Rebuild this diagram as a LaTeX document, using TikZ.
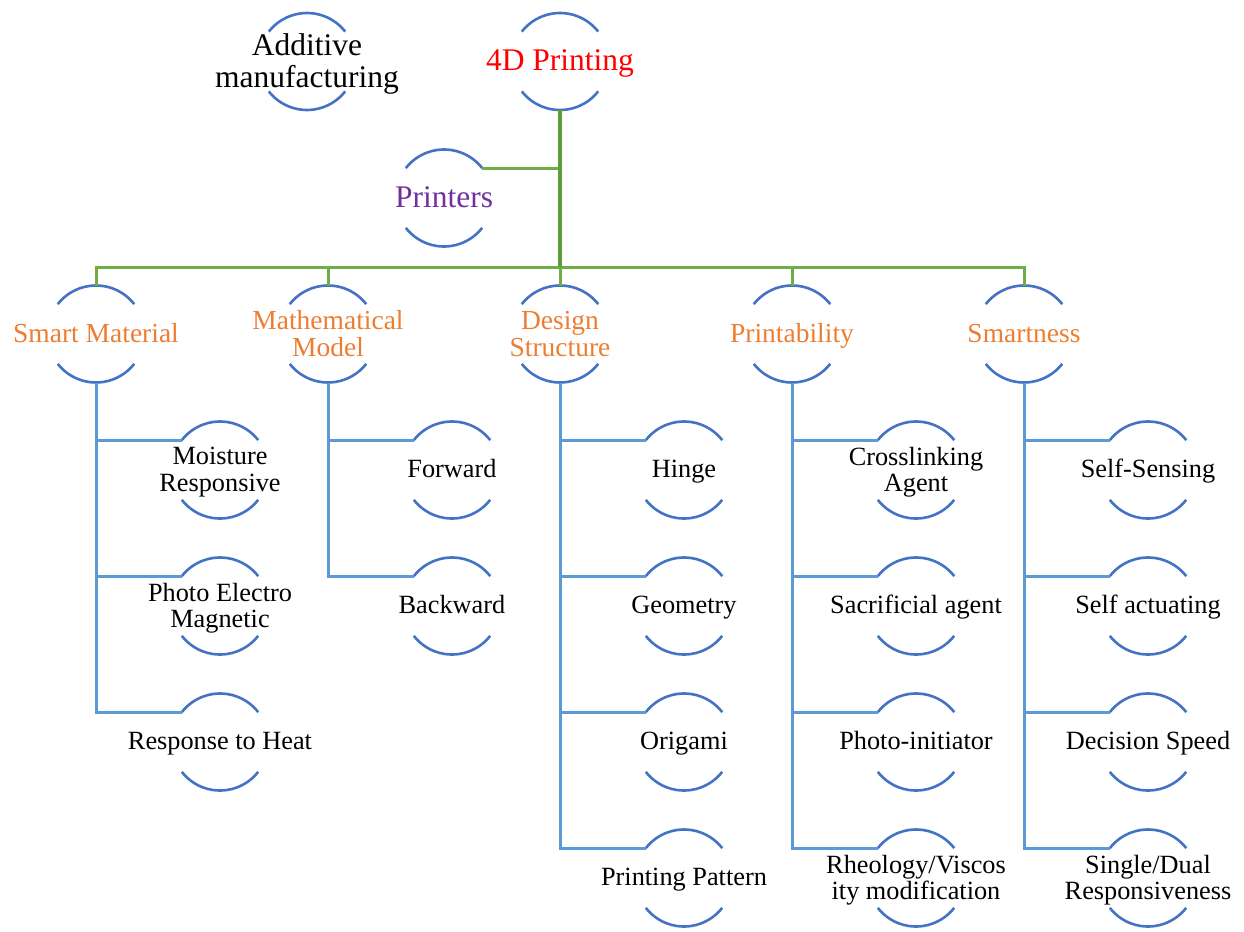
\documentclass[tikz,border=0pt]{standalone}
\usepackage{fontspec}
\setmainfont{Liberation Serif}
\usetikzlibrary{calc}
\definecolor{arcblue}{HTML}{4472C4}
\definecolor{lineblue}{HTML}{5B9BD5}
\definecolor{lgreen}{HTML}{70AD47}
\definecolor{dgreen}{HTML}{5E9E3A}
\definecolor{orng}{HTML}{ED7D31}
\definecolor{purp}{HTML}{7030A0}
\tikzset{
  arcline/.style={draw=arcblue, line width=2.6pt},
  gline/.style={draw=lgreen, line width=3pt},
  gmain/.style={draw=dgreen, line width=4pt},
  bline/.style={draw=lineblue, line width=3pt},
  txtbox/.style={align=center, inner sep=0pt},
  toptext/.style={txtbox, yshift=-2pt, font=\fontsize{31.5}{32}\selectfont},
  lvltext/.style={txtbox, text=orng, font=\fontsize{27.5}{27}\selectfont},
  leaftext/.style={txtbox, yshift=-2pt, text=black, font=\fontsize{26.3}{26.5}\selectfont},
  topone/.style={txtbox, font=\fontsize{31.5}{32}\selectfont, text height=26.8pt, text depth=7.9pt},
  lvlone/.style={lvltext, text height=23.4pt, text depth=6.9pt},
  leafone/.style={txtbox, text=black, font=\fontsize{26.3}{26.5}\selectfont, text height=22.4pt, text depth=6.6pt},
}
\newcommand{\ringnode}[5]{%
  \coordinate (#1-c) at (#2,#3);
  \node[#4] (#1) at (#1-c) {#5};
  \draw[arcline] (#1-c) ++(38:48.5) arc[start angle=38,end angle=142,radius=48.5];
  \draw[arcline] (#1-c) ++(218:48.5) arc[start angle=218,end angle=322,radius=48.5];
  \coordinate (#1-t) at ($(#1-c)+(0,48.5)$);
  \coordinate (#1-b) at ($(#1-c)+(0,-48.5)$);
  \coordinate (#1-l) at ($(#1-c)+(142:48.5)$);
  \coordinate (#1-r) at ($(#1-c)+(38:48.5)$);
}
\begin{document}
\begin{tikzpicture}[x=1pt,y=1pt]
\useasboundingbox (0,0) rectangle (1244,-931);
% top level
\ringnode{am}{307}{-61.5}{toptext}{Additive\\manufacturing}
\ringnode{pf}{560}{-61.5}{topone,text=red}{4D Printing}
\ringnode{pr}{444}{-198}{topone,text=purp}{Printers}
% level 1
\ringnode{sm}{96}{-334}{lvlone}{Smart Material}
\ringnode{mm}{328}{-334}{lvltext}{Mathematical\\Model}
\ringnode{ds}{560}{-334}{lvltext}{Design\\Structure}
\ringnode{pa}{792}{-334}{lvlone}{Printability}
\ringnode{sn}{1024}{-334}{lvlone}{Smartness}
% leaves
\ringnode{mo}{220}{-470}{leaftext}{Moisture\\Responsive}
\ringnode{pe}{220}{-606}{leaftext}{Photo Electro\\Magnetic}
\ringnode{rh}{220}{-742}{leafone}{Response to Heat}
\ringnode{fw}{452}{-470}{leafone}{Forward}
\ringnode{bw}{452}{-606}{leafone}{Backward}
\ringnode{hi}{684}{-470}{leafone}{Hinge}
\ringnode{ge}{684}{-606}{leafone}{Geometry}
\ringnode{og}{684}{-742}{leafone}{Origami}
\ringnode{pp}{684}{-878}{leafone}{Printing Pattern}
\ringnode{cl}{916}{-470}{leaftext}{Crosslinking\\Agent}
\ringnode{sa}{916}{-606}{leafone}{Sacrificial agent}
\ringnode{pi}{916}{-742}{leafone}{Photo-initiator}
\ringnode{rv}{916}{-878}{leaftext}{Rheology/Viscos\\ity modification}
\ringnode{ss}{1148}{-470}{leafone}{Self-Sensing}
\ringnode{sx}{1148}{-606}{leafone}{Self actuating}
\ringnode{dp}{1148}{-742}{leafone}{Decision Speed}
\ringnode{sd}{1148}{-878}{leaftext}{Single/Dual\\Responsiveness}
% green connectors
\draw[gline] (sm-t) -- ++(0,18.5) -| (sn-t);
\draw[gline] (mm-t) -- ++(0,18.5);
\draw[gline] (pa-t) -- ++(0,18.5);
\draw[gline] (pr-r) -- (pr-r -| pf-b);
\draw[gmain] (pf-b) -- ($(ds-t)+(0,18.5)$);
\draw[gline] ($(ds-t)+(0,18.5)$) -- (ds-t);
% blue connectors
\foreach \p/\c in {sm/mo, sm/pe, sm/rh, mm/fw, mm/bw, ds/hi, ds/ge, ds/og, ds/pp,
                   pa/cl, pa/sa, pa/pi, pa/rv, sn/ss, sn/sx, sn/dp, sn/sd}
  \draw[bline] (\p-b) |- (\c-l);
\end{tikzpicture}
\end{document}
